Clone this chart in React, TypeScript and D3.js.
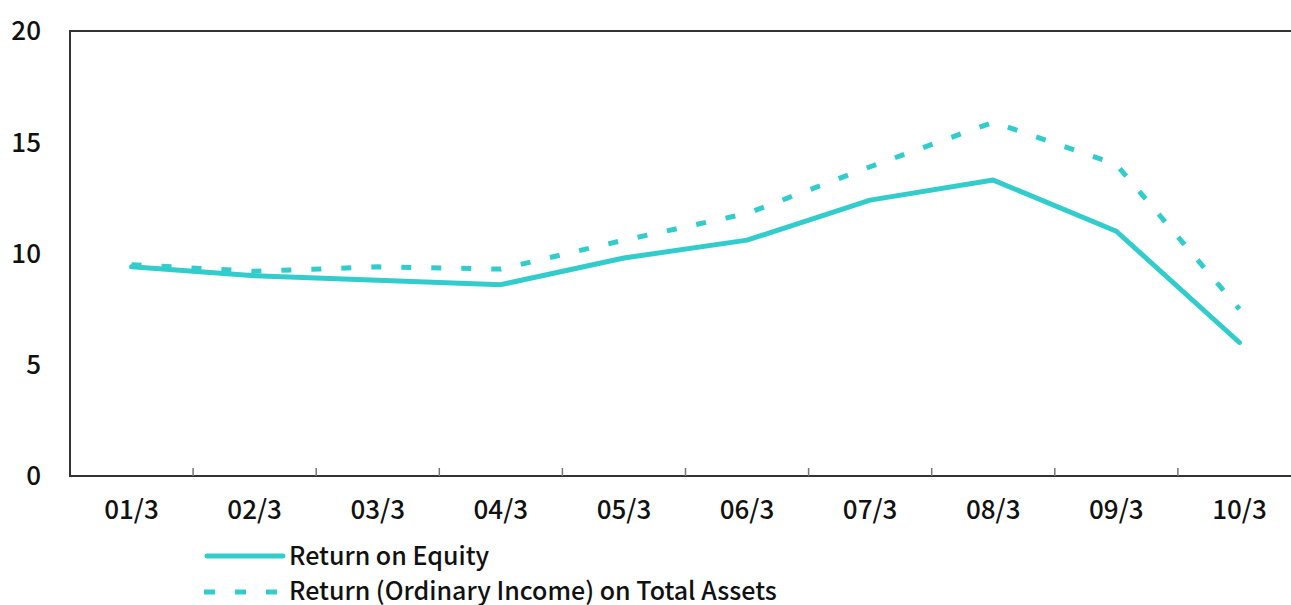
import React from "react";
import * as d3 from "d3";

const categories = ["01/3", "02/3", "03/3", "04/3", "05/3", "06/3", "07/3", "08/3", "09/3", "10/3"];
const roe = [9.4, 9.0, 8.8, 8.6, 9.8, 10.6, 12.4, 13.3, 11.0, 6.0];
const roa = [9.5, 9.2, 9.4, 9.3, 10.6, 11.8, 13.9, 15.9, 14.0, 7.5];
const yTicks = [0, 5, 10, 15, 20];
const seriesNames = ["Return on Equity", "Return (Ordinary Income) on Total Assets"];

const W = 1291;
const H = 605;
const m = { left: 70, top: 31, right: 1301, bottom: 476 };
const color = "#33cccc";
const font = "'Noto Sans CJK JP', 'Noto Sans', sans-serif";

export default function App() {
  const x = d3.scaleBand<string>().domain(categories).range([m.left, m.right]);
  const y = d3.scaleLinear().domain([0, 20]).range([m.bottom, m.top]);
  const cx = (c: string) => (x(c) ?? 0) + x.bandwidth() / 2;

  const line = d3
    .line<number>()
    .x((_, i) => cx(categories[i]))
    .y((d) => y(d));

  return (
    <svg
      width={W}
      height={H}
      style={{ position: "absolute", left: 0, top: 0, background: "#fff" }}
      fontFamily={font}
      fontWeight={500}
    >
      <rect x={m.left} y={m.top} width={m.right - m.left} height={m.bottom - m.top} fill="none" stroke="#333" strokeWidth={2} />
      {categories.slice(1).map((c) => (
        <line key={c} x1={x(c)} x2={x(c)} y1={m.bottom} y2={m.bottom - 8} stroke="#777" strokeWidth={1.5} />
      ))}
      {yTicks.map((t) => (
        <text key={t} x={41} y={y(t)} dy="0.36em" textAnchor="end" fontSize={26} fill="#111">
          {t}
        </text>
      ))}
      {categories.map((c) => (
        <text key={c} x={cx(c)} y={510} dy="0.36em" textAnchor="middle" fontSize={26} fill="#111">
          {c}
        </text>
      ))}
      <path d={line(roa) ?? ""} fill="none" stroke={color} strokeWidth={5} strokeDasharray="10,20" />
      <path d={line(roe) ?? ""} fill="none" stroke={color} strokeWidth={5} strokeLinejoin="round" strokeLinecap="round" />
      <line x1={207} x2={283} y1={556} y2={556} stroke={color} strokeWidth={5} strokeLinecap="round" />
      <text x={289} y={556} dy="0.36em" fontSize={25} fill="#111">{seriesNames[0]}</text>
      <line x1={204} x2={283} y1={592} y2={592} stroke={color} strokeWidth={5} strokeDasharray="11,20" />
      <text x={289} y={591} dy="0.36em" fontSize={25} fill="#111">{seriesNames[1]}</text>
    </svg>
  );
}
